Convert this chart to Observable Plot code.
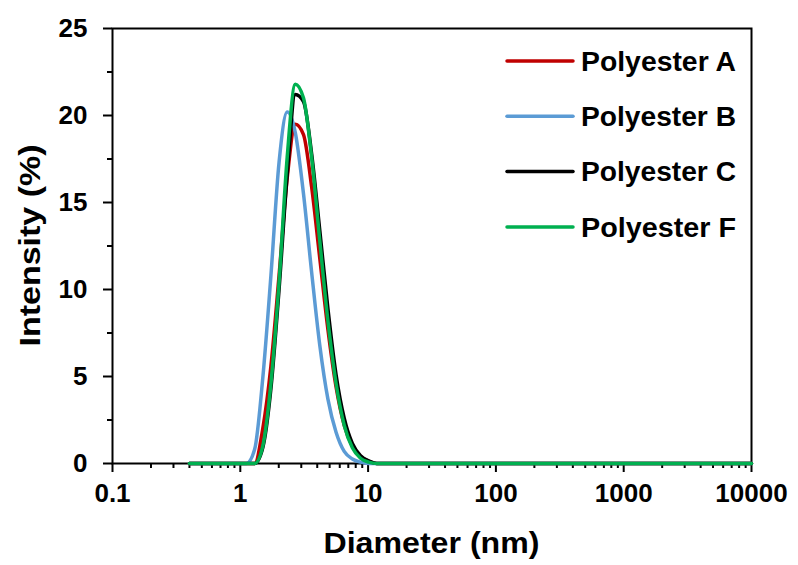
<!DOCTYPE html>
<html><head><meta charset="utf-8">
<script src="https://cdn.jsdelivr.net/npm/d3@7"></script>
<script src="https://cdn.jsdelivr.net/npm/@observablehq/plot@0.6"></script>
<style>
body{margin:0;background:#fff}
#chart{position:relative;width:798px;height:565px}
</style>
</head><body><div id="chart"></div>
<script>
// Size bins (nm)
const diameters = [0.4, 0.9649, 1.117, 1.294, 1.499, 1.736, 2.01, 2.328, 2.696, 3.122, 3.615, 4.187, 4.849, 5.615, 6.503, 7.531, 8.721, 10.1, 11.7, 13.54, 10000];
// Intensity (%) per series
const intensityA = [0, 0, 0, 0, 2.0, 5.6, 10.8, 16.4, 19.5, 18.9, 15.9, 11.8, 7.7, 4.4, 2.2, 1.0, 0.4, 0.13, 0, 0, 0];
const intensityB = [0, 0, 0, 0.8, 4.9, 10.8, 17.3, 20.2, 19.0, 15.5, 11.0, 6.8, 3.7, 1.8, 0.7, 0.26, 0.08, 0, 0, 0, 0];
const intensityC = [0, 0, 0, 0, 0.9, 4.3, 10.0, 16.6, 21.2, 20.8, 17.8, 13.4, 8.9, 5.1, 2.6, 1.15, 0.45, 0.15, 0, 0, 0];
const intensityF = [0, 0, 0, 0, 1.0, 4.6, 10.4, 17.6, 21.8, 21.0, 17.6, 12.8, 8.2, 4.6, 2.2, 0.9, 0.3, 0.08, 0, 0, 0];

const seriesNames = ["Polyester A", "Polyester B", "Polyester C", "Polyester F"];
const seriesColors = ["#C00000", "#5B9BD5", "#000000", "#00B050"];
const xTickValues = [0.1, 1, 10, 100, 1000, 10000];
const xMinorTicks = [0.2,0.3,0.4,0.5,0.6,0.7,0.8,0.9, 2,3,4,5,6,7,8,9, 20,30,40,50,60,70,80,90, 200,300,400,500,600,700,800,900, 2000,3000,4000,5000,6000,7000,8000,9000];
const yTickValues = [0, 5, 10, 15, 20, 25];
const yMinorTicks = [2.5, 7.5, 12.5, 17.5, 22.5];
const xTitle = "Diameter (nm)";
const yTitle = "Intensity (%)";

const seriesArrays = [intensityA, intensityB, intensityC, intensityF];
const rows = [];
seriesArrays.forEach((arr, i) => arr.forEach((v, j) => rows.push({series: seriesNames[i], d: diameters[j], v})));

const W = 798, H = 565;
const mL = 112, mR = 47, mT = 28, mB = 102;

const chart = Plot.plot({
  width: W, height: H,
  marginLeft: mL, marginRight: mR, marginTop: mT, marginBottom: mB,
  style: {fontFamily: "'Liberation Sans', Arial, sans-serif", fontWeight: "bold", fontSize: "26px", color: "#000", background: "#fff"},
  x: {type: "log", domain: [0.1, 10000]},
  y: {domain: [0, 25]},
  color: {domain: seriesNames, range: seriesColors},
  marks: [
    Plot.frame({stroke: "#000", strokeWidth: 2}),
    Plot.axisX({ticks: xMinorTicks, tickSize: 5, text: null, strokeWidth: 2, label: null}),
    Plot.axisX({ticks: xTickValues, tickSize: 9, tickPadding: 11, strokeWidth: 2, tickFormat: d => String(d), fontSize: 26, label: null}),
    Plot.axisY({ticks: yMinorTicks, tickSize: 5, text: null, strokeWidth: 2, label: null}),
    Plot.axisY({ticks: yTickValues, tickSize: 9, tickPadding: 16, strokeWidth: 2, fontSize: 26, label: null}),
    Plot.line(rows, {x: "d", y: "v", z: "series", stroke: "series", strokeWidth: 3.5, curve: "monotone-x"})
  ]
});
document.getElementById("chart").appendChild(chart);

const svg = d3.select(chart);
const fam = "'Liberation Sans', Arial, sans-serif";
// axis titles
svg.append("text")
  .attr("x", mL + (W - mL - mR) / 2).attr("y", 553)
  .attr("text-anchor", "middle").attr("font-family", fam).attr("font-weight", "bold")
  .attr("font-size", 30).attr("textLength", 216).attr("lengthAdjust", "spacingAndGlyphs")
  .attr("fill", "#000").text(xTitle);
svg.append("text")
  .attr("transform", `translate(29,${mT + (H - mT - mB) / 2}) rotate(-90)`)
  .attr("dy", "0.36em")
  .attr("text-anchor", "middle").attr("font-family", fam).attr("font-weight", "bold")
  .attr("font-size", 30).attr("textLength", 202).attr("lengthAdjust", "spacingAndGlyphs")
  .attr("fill", "#000").text(yTitle);

// legend
const legend = svg.append("g");
seriesNames.forEach((name, i) => {
  const y = 61 + i * 55.3;
  legend.append("line").attr("x1", 507).attr("x2", 573).attr("y1", y).attr("y2", y)
    .attr("stroke", seriesColors[i]).attr("stroke-width", 3.5).attr("stroke-linecap", "round");
  legend.append("text").attr("x", 581).attr("y", y).attr("dy", "0.36em")
    .attr("text-anchor", "start")
    .attr("font-family", fam).attr("font-weight", "bold").attr("font-size", 27)
    .attr("textLength", 155).attr("lengthAdjust", "spacingAndGlyphs")
    .attr("fill", "#000").text(name);
});
</script>
</body></html>
